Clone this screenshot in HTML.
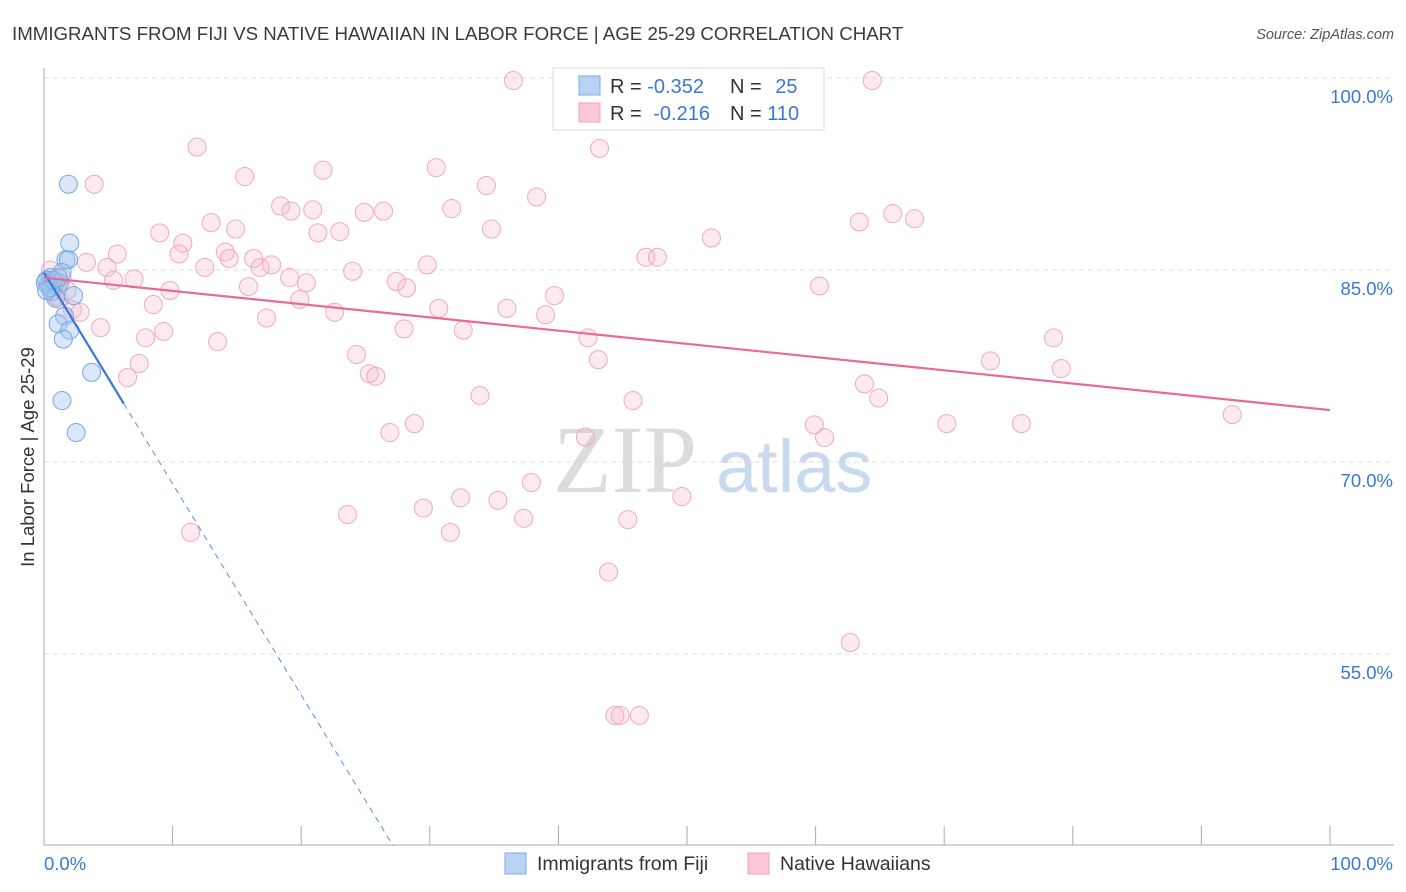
<!DOCTYPE html>
<html><head><meta charset="utf-8">
<style>
body{margin:0;background:#fff;font-family:"Liberation Sans",sans-serif;}
svg{display:block}
</style></head>
<body>
<svg id="chart" width="1406" height="892">
<text x="12" y="40" font-size="18.7" fill="#3a3a3a">IMMIGRANTS FROM FIJI VS NATIVE HAWAIIAN IN LABOR FORCE | AGE 25-29 CORRELATION CHART</text>
<text x="1394" y="39" font-size="14.5" fill="#555" font-style="italic" text-anchor="end">Source: ZipAtlas.com</text>
<g>
<text x="553" y="492" font-size="96" font-family="Liberation Serif,serif" fill="#dcdcdc">ZIP</text>
<text x="716" y="492" font-size="74" fill="#c9d9ee">atlas</text>
</g>
<g id="grid"></g>
<g id="axes"></g>
<g id="pts"></g>
<g id="lines"></g>
<text transform="translate(34,457) rotate(-90)" font-size="18.5" fill="#333" text-anchor="middle">In Labor Force | Age 25-29</text>
<g>
<rect x="553" y="68" width="271" height="62" fill="#fff" stroke="#ddd"/>
<rect x="579" y="76" width="21" height="19" fill="#b8d2f4" stroke="#7eaae6"/>
<rect x="579" y="103" width="21" height="19" fill="#fbc8d8" stroke="#f0a0b8"/>
<text x="610" y="93" font-size="20" fill="#333">R = <tspan fill="#3a78d8">-0.352</tspan></text>
<text x="730" y="93" font-size="20" fill="#333">N = <tspan fill="#3a78d8" dx="8">25</tspan></text>
<text x="610" y="120" font-size="20" fill="#333">R = <tspan fill="#3a78d8" dx="6">-0.216</tspan></text>
<text x="730" y="120" font-size="20" fill="#333">N = <tspan fill="#3a78d8">110</tspan></text>
</g>
<g>
<rect x="505" y="853" width="21" height="21" fill="#b8d2f4" stroke="#7eaae6"/>
<text x="537" y="870" font-size="19.5" fill="#333">Immigrants from Fiji</text>
<rect x="748" y="853" width="21" height="21" fill="#fbc8d8" stroke="#f0a0b8"/>
<text x="780" y="870" font-size="19.5" fill="#333">Native Hawaiians</text>
</g>
</svg>
<script>
const yTicks=[100,85,70,55];
const yTickLabels=["100.0%","85.0%","70.0%","55.0%"];
const xTickLabels=["0.0%","100.0%"];
const fijiX=[1.9,2.0,1.7,1.9,1.4,0.5,0.3,0.9,1.2,0.6,2.3,0.9,1.6,1.1,2.0,1.5,3.7,1.4,2.5,0.2,0.5,0.1,0.7,1.1,0.2];
const fijiY=[91.7,87.1,85.8,85.8,84.8,84.4,83.8,84.0,84.0,83.3,83.0,82.8,81.4,80.8,80.3,79.6,77.0,74.8,72.3,84.2,83.6,84.0,84.2,84.4,83.4];
const hawX=[36.5,64.4,53.6,11.9,43.2,15.6,3.9,21.7,30.5,34.4,38.3,18.4,19.2,20.9,24.9,26.4,31.7,13.0,9.0,14.9,10.8,21.3,23.0,34.8,63.4,66.0,67.7,51.9,5.7,3.3,10.5,14.1,14.4,16.3,17.7,16.8,12.5,4.9,29.8,46.8,47.7,7.0,5.4,15.9,19.1,20.4,24.0,27.4,28.2,19.9,39.7,9.8,8.5,22.6,30.7,36.0,39.0,17.3,60.3,4.4,9.3,7.9,28.0,32.6,42.3,13.5,24.3,43.1,78.5,73.6,79.1,7.4,6.5,25.3,25.8,33.9,63.8,64.9,45.8,26.9,28.8,42.1,59.9,60.7,70.2,76.0,92.4,37.9,32.4,35.3,49.6,29.5,23.6,37.3,45.4,31.6,11.4,43.9,62.7,44.4,44.8,46.3,2.8,2.2,1.2,0.9,0.5,1.1,1.4,1.8];
const hawY=[99.8,99.8,97.5,94.6,94.5,92.3,91.7,92.8,93.0,91.6,90.7,90.0,89.6,89.7,89.5,89.6,89.8,88.7,87.9,88.2,87.1,87.9,88.0,88.2,88.75,89.4,89.0,87.5,86.25,85.6,86.25,86.4,85.9,85.9,85.4,85.2,85.2,85.2,85.4,86.0,86.0,84.3,84.2,83.7,84.4,84.0,84.9,84.1,83.6,82.7,83.0,83.4,82.3,81.7,82.0,82.0,81.5,81.25,83.75,80.5,80.2,79.7,80.4,80.3,79.7,79.4,78.4,78.0,79.7,77.9,77.3,77.7,76.6,76.9,76.7,75.2,76.1,75.0,74.8,72.3,73.0,71.95,72.9,71.9,73.0,73.0,73.7,68.4,67.2,67.0,67.3,66.4,65.9,65.6,65.5,64.5,64.5,61.4,55.9,50.2,50.2,50.2,81.7,81.9,82.7,83.0,85.0,83.8,84.4,83.4];
const fijiTrend=[84.8,-1.65];
const hawTrend=[84.4,-0.1034];

const NS="http://www.w3.org/2000/svg";
const X=v=>44+v*12.86;
const Y=v=>78+(100-v)*12.8;
function mk(tag,attrs,parent){const e=document.createElementNS(NS,tag);for(const k in attrs)e.setAttribute(k,attrs[k]);document.getElementById(parent).appendChild(e);return e;}

yTicks.forEach((t,i)=>{
  const g=mk('line',{x1:44,x2:1394,y1:Y(t),y2:Y(t),stroke:'#ddd','stroke-dasharray':'5,4'},'grid');
  
  
  const l=mk('text',{x:1393,y:Y(t)+25,'font-size':18.5,fill:'#3a78d8','text-anchor':'end'},'axes');
  l.textContent=yTickLabels[i];
  
  
});
const ya=mk('line',{x1:44,x2:44,y1:68,y2:845,stroke:'#aaa'},'axes');


const xa=mk('line',{x1:44,x2:1394,y1:845,y2:845,stroke:'#aaa'},'axes');


for(let i=1;i<=10;i++){
  const t=mk('line',{x1:X(i*10),x2:X(i*10),y1:826,y2:845,stroke:'#aaa'},'axes');
  
  
}
const xl0=mk('text',{x:44,y:870,'font-size':18.5,fill:'#3a78d8'},'axes');
xl0.textContent=xTickLabels[0];


const xl1=mk('text',{x:1393,y:870,'font-size':18.5,fill:'#3a78d8','text-anchor':'end'},'axes');
xl1.textContent=xTickLabels[1];



hawX.forEach((v,i)=>{
  const c=mk('circle',{cx:X(v),cy:Y(hawY[i]),r:9,fill:'rgba(248,180,200,0.28)',stroke:'#f0a8c0','stroke-width':1},'pts');
  
  
});
fijiX.forEach((v,i)=>{
  const c=mk('circle',{cx:X(v),cy:Y(fijiY[i]),r:9,fill:'rgba(160,196,240,0.4)',stroke:'#78a6e2','stroke-width':1},'pts');
  
  
});
const fy=x=>fijiTrend[0]+fijiTrend[1]*x;
const xEnd=(fijiTrend[0]-40)/-fijiTrend[1];
const fs=mk('line',{x1:X(0),y1:Y(fy(0)),x2:X(6.2),y2:Y(fy(6.2)),stroke:'#3a78d8','stroke-width':2.2},'lines');


const fd=mk('line',{x1:X(6.2),y1:Y(fy(6.2)),x2:X(xEnd),y2:Y(40),stroke:'#5a8ee0','stroke-width':1,'stroke-dasharray':'6,5'},'lines');


const hy=x=>hawTrend[0]+hawTrend[1]*x;
const hl=mk('line',{x1:X(0),y1:Y(hy(0)),x2:X(100),y2:Y(hy(100)),stroke:'#e8699a','stroke-width':2.2},'lines');


</script>
</body></html>
